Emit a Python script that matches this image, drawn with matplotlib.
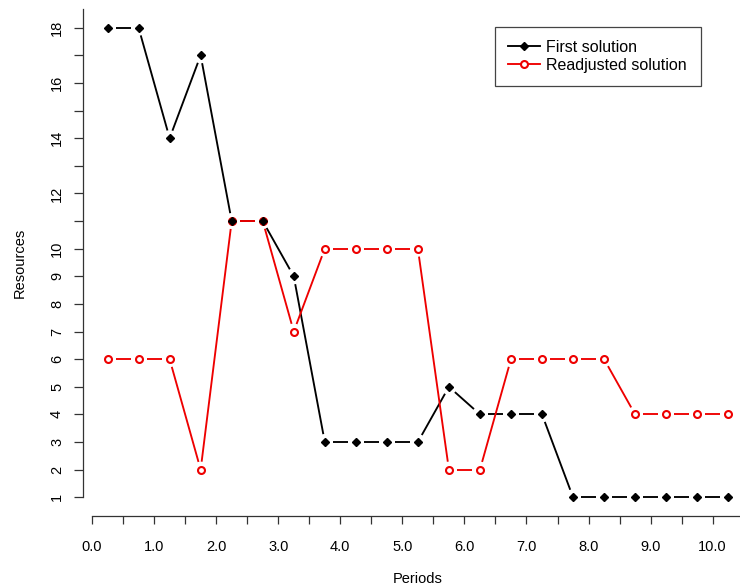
import numpy as np
import matplotlib
matplotlib.use("Agg")
import matplotlib.pyplot as plt

plt.rcParams["font.family"] = ["Liberation Sans", "DejaVu Sans"]
plt.rcParams["font.size"] = 10

periods = [0.25, 0.75, 1.25, 1.75, 2.25, 2.75, 3.25, 3.75, 4.25, 4.75, 5.25,
           5.75, 6.25, 6.75, 7.25, 7.75, 8.25, 8.75, 9.25, 9.75, 10.25]
first_solution = [18, 18, 14, 17, 11, 11, 9, 3, 3, 3, 3,
                  5, 4, 4, 4, 1, 1, 1, 1, 1, 1]
readjusted_solution = [6, 6, 6, 2, 11, 11, 7, 10, 10, 10, 10,
                       2, 2, 6, 6, 6, 6, 4, 4, 4, 4]

x_ticks = np.arange(0, 10.51, 0.5)
x_labels = [f"{v:.1f}" if float(v).is_integer() else "" for v in x_ticks]
y_ticks = list(range(1, 19))
y_labels = [str(v) if (v <= 10 or v % 2 == 0) else "" for v in y_ticks]

RED = "#ee0000"

fig = plt.figure(figsize=(7.4, 5.87), dpi=100)
ax = fig.add_axes([0.1118, 0.1209, 0.9058, 0.8639])
ax.set_xlim(-0.15, 10.65)
ax.set_ylim(0.32, 18.68)


def gapped_line(xs, ys, color, gap=8.0):
    # draw segments like R type="b": line stops short of each point
    pts = ax.transData.transform(np.column_stack([xs, ys]))
    inv = ax.transData.inverted()
    for p0, p1 in zip(pts[:-1], pts[1:]):
        d = p1 - p0
        n = np.hypot(*d)
        if n <= 2 * gap:
            continue
        u = d / n
        seg = inv.transform(np.array([p0 + u * gap, p1 - u * gap]))
        ax.plot(seg[:, 0], seg[:, 1], color=color, lw=1.35,
                solid_capstyle="butt")


gapped_line(periods, first_solution, "black")
gapped_line(periods, readjusted_solution, RED)
ax.plot(periods, readjusted_solution, ls="none", marker="o", ms=5.0,
        mfc="white", mec=RED, mew=1.5)
ax.plot(periods, first_solution, ls="none", marker="D", ms=3.6,
        color="black")

# legend handles
ax.plot([], [], color="black", lw=1.35, marker="D", ms=3.6,
        label="First solution")
ax.plot([], [], color=RED, lw=1.35, marker="o", ms=5.0, mfc="white",
        mec=RED, mew=1.5, label="Readjusted solution")
handles, labels = ax.get_legend_handles_labels()
top = 1 - 27 / 587
leg = fig.legend(handles, labels, loc="upper left",
                 bbox_to_anchor=(495 / 740, top - 0.05, 206 / 740, 0.05),
                 mode="expand", fancybox=False, edgecolor="#444444",
                 framealpha=1, borderpad=0.8, labelspacing=0.2,
                 handlelength=2.0, handletextpad=0.4, borderaxespad=0,
                 fontsize=11.5)
leg.get_frame().set_linewidth(0.9)

ax.set_xticks(x_ticks)
ax.set_xticklabels(x_labels)
ax.set_yticks(y_ticks)
ax.set_yticklabels(y_labels, rotation=90, va="center")

for s in ["top", "right"]:
    ax.spines[s].set_visible(False)
ax.spines["bottom"].set_bounds(0, 10.5)
ax.spines["left"].set_bounds(1, 18.68)
for s in ["bottom", "left"]:
    ax.spines[s].set_linewidth(0.9)
    ax.spines[s].set_color("#333333")

ax.tick_params(axis="x", length=6, width=0.9, color="#333333", pad=11,
               labelsize=10.5)
ax.tick_params(axis="y", length=6.5, width=0.9, color="#333333", pad=7,
               labelsize=10.5)
ax.set_xlabel("Periods", fontsize=10.5, labelpad=13)
ax.set_ylabel("Resources", fontsize=10.5, labelpad=17)

fig.savefig("out.png", dpi=100)
